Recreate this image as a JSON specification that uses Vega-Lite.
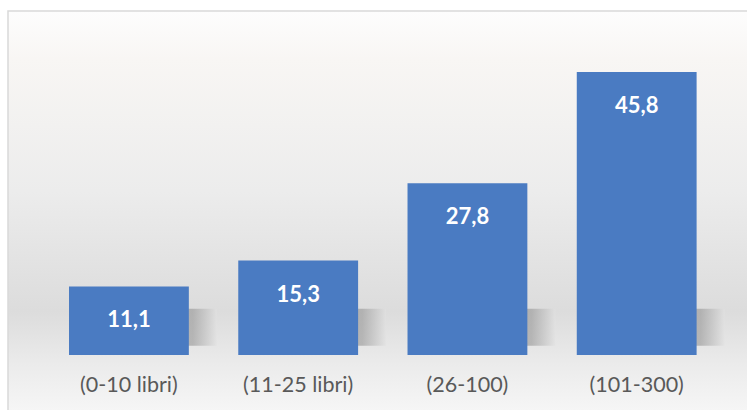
{
  "$schema": "https://vega.github.io/schema/vega-lite/v6.json",
  "width": 741,
  "height": 401,
  "padding": {"left": 8, "top": 11, "right": 0, "bottom": 0},
  "autosize": {"type": "none"},
  "background": "#ffffff",
  "config": {
    "view": {
      "stroke": "#d9d9d9",
      "strokeWidth": 1.5,
      "fill": {
        "gradient": "linear", "x1": 0, "y1": 0, "x2": 0, "y2": 1,
        "stops": [
          {"offset": 0, "color": "#fdfdfd"},
          {"offset": 0.12, "color": "#f8f6f4"},
          {"offset": 0.45, "color": "#ececec"},
          {"offset": 0.75, "color": "#dcdcdc"},
          {"offset": 0.88, "color": "#ebebeb"},
          {"offset": 1, "color": "#f6f6f6"}
        ]
      }
    },
    "font": "Lato"
  },
  "data": {
    "values": [
      {"categoria": "(0-10 libri)", "valore": 11.1, "etichetta": "11,1"},
      {"categoria": "(11-25 libri)", "valore": 15.3, "etichetta": "15,3"},
      {"categoria": "(26-100)", "valore": 27.8, "etichetta": "27,8"},
      {"categoria": "(101-300)", "valore": 45.8, "etichetta": "45,8"}
    ]
  },
  "encoding": {
    "x": {
      "field": "categoria",
      "type": "nominal",
      "sort": null,
      "scale": {"paddingInner": 0.292, "paddingOuter": 0.335, "align": 0.538},
      "axis": {
        "title": null,
        "labelAngle": 0,
        "domain": false,
        "ticks": false,
        "offset": -42,
        "labelPadding": 4,
        "labelFontSize": 21.5,
        "labelColor": "#595959",
        "labelFont": "Lato"
      }
    }
  },
  "layer": [
    {
      "mark": {
        "type": "bar",
        "xOffset": 28,
        "fill": {
          "gradient": "linear", "x1": 0, "y1": 0, "x2": 1, "y2": 0,
          "stops": [
            {"offset": 0, "color": "#7a7a7a"},
            {"offset": 0.8, "color": "#8f8f8f"},
            {"offset": 0.9, "color": "#b8b8b8"},
            {"offset": 1, "color": "#e2e2e2"}
          ]
        },
        "opacity": 0.55
      },
      "encoding": {
        "y": {"datum": 1.5, "type": "quantitative", "scale": {"domain": [-9.2, 55.66], "nice": false, "zero": false}, "axis": null},
        "y2": {"datum": 7.5}
      }
    },
    {
      "mark": {"type": "bar", "color": "#4a7bc2"},
      "encoding": {
        "y": {"field": "valore", "type": "quantitative", "scale": {"domain": [-9.2, 55.66], "nice": false, "zero": false}, "axis": null},
        "y2": {"datum": 0}
      }
    },
    {
      "mark": {"type": "text", "color": "#ffffff", "fontSize": 22, "fontWeight": "bold", "font": "Lato", "baseline": "middle", "dy": 34},
      "encoding": {
        "y": {"field": "valore", "type": "quantitative", "scale": {"domain": [-9.2, 55.66], "nice": false, "zero": false}, "axis": null},
        "text": {"field": "etichetta", "type": "nominal"}
      }
    }
  ]
}
